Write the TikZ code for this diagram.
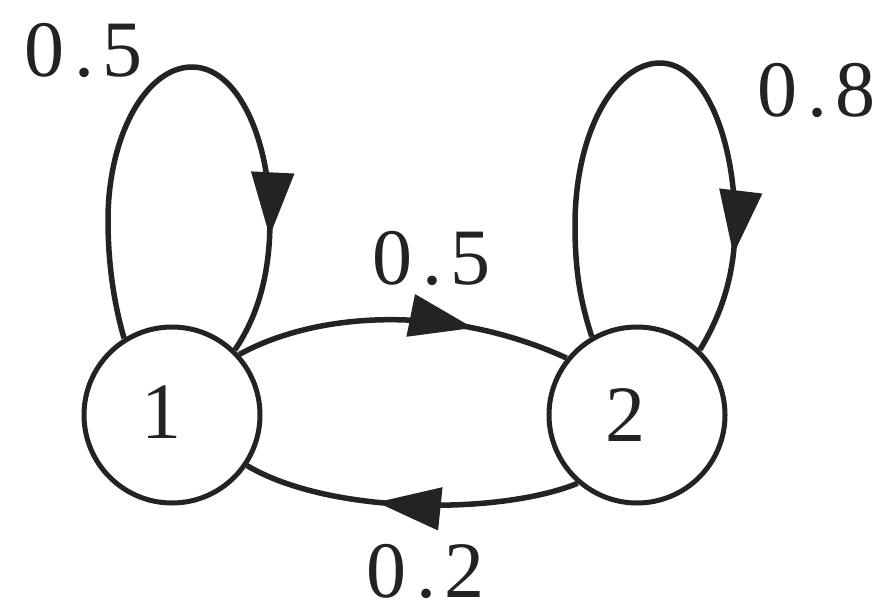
\documentclass[tikz,border=0pt]{standalone}
\usepackage{fontspec}
\setmainfont{Liberation Serif}
\newfontfamily\tms{Liberation Serif}
\usetikzlibrary{arrows.meta,decorations.markings}
\definecolor{ink}{RGB}{35,35,35}
\tikzset{
  state/.style={circle, draw=ink, line width=5pt, minimum size=176pt, inner sep=0pt,
    text=ink, font=\tms\fontsize{80pt}{84pt}\selectfont},
  lbl/.style={text=ink, inner sep=0pt, font=\tms\fontsize{80pt}{84pt}\selectfont},
  edge/.style={draw=ink, line width=5.5pt},
  tipat/.style={postaction={decorate}, decoration={markings,
    mark=at position #1 with {\arrow[ink]{Triangle[length=64pt,width=42pt]}}}}
}
\newcommand\pr[2]{#1\kern10pt.\kern8pt#2}
\begin{document}
\begin{tikzpicture}[x=1pt,y=-1pt]
\useasboundingbox (0,0) rectangle (885,615);
\node[state] (n1) at (172,415) {\hspace*{-22pt}\raisebox{5pt}{1}};
\node[state] (n2) at (637,415) {\hspace*{-24pt}\raisebox{-7pt}{2}};
% self loop on 1
\path[edge, tipat=0.81] (n1.122) .. controls (113,300) and (108,260) .. (108,220)
  .. controls (108,136) and (146,67) .. (192,67)
  .. controls (238,67) and (270,140) .. (270,220)
  .. controls (270,280) and (255,320) .. (n1.46);
% self loop on 2
\path[edge, tipat=0.84] (n2.120) .. controls (580,300) and (575,270) .. (575,225)
  .. controls (575,132) and (615,63) .. (660,63)
  .. controls (705,63) and (735,140) .. (735,225)
  .. controls (735,280) and (718,320) .. (n2.46);
% 1 -> 2
\path[edge, tipat=0.71] (n1.42) .. controls (320,310) and (450,305) .. (n2.141);
% 2 -> 1
\path[edge, tipat=0.6] (n2.229) .. controls (500,515) and (330,515) .. (n1.326);
% labels
\node[lbl] (l11) at (83,50) {\pr{0}{5}};
\node[lbl] (l22) at (816,90) {\pr{0}{8}};
\node[lbl] (l12) at (431,258) {\pr{0}{5}};
\node[lbl] (l21) at (425,571) {\pr{0}{2}};
\end{tikzpicture}
\end{document}
